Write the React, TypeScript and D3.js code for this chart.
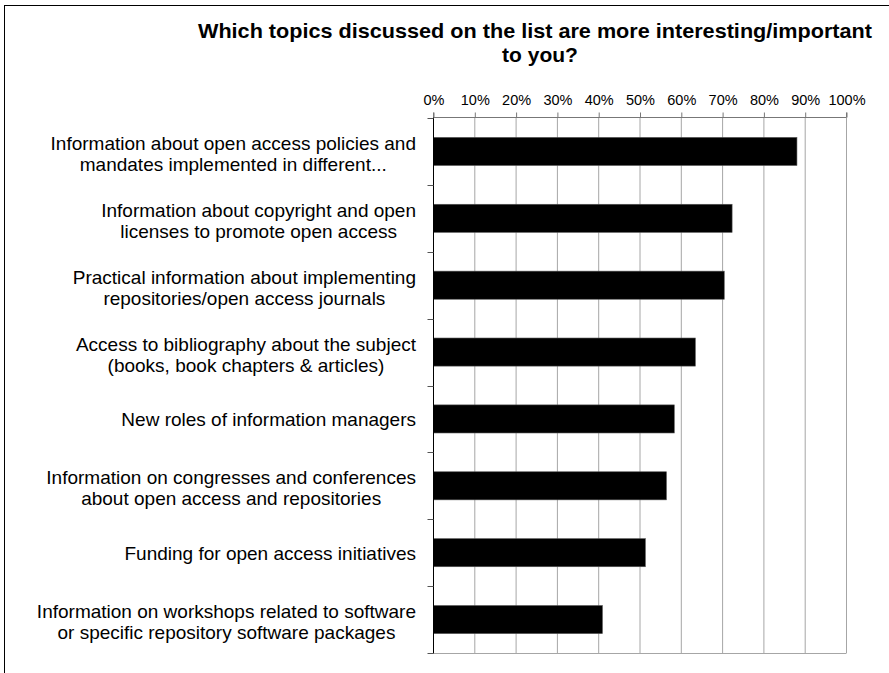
import React, { useEffect, useRef } from "react";
import * as d3 from "d3";

const titleLines = [
  "Which topics discussed on the list are more interesting/important",
  "to you?",
];

const categories = [
  ["Information about open access policies and", "mandates implemented in different..."],
  ["Information about copyright and open", "licenses to promote open access"],
  ["Practical information about implementing", "repositories/open access journals"],
  ["Access to bibliography about the subject", "(books, book chapters & articles)"],
  ["New roles of information managers"],
  ["Information on congresses and conferences", "about open access and repositories"],
  ["Funding for open access initiatives"],
  ["Information on workshops related to software", "or specific repository software packages"],
];

const values = [0.88, 0.723, 0.704, 0.634, 0.583, 0.564, 0.513, 0.409];

const tickValues = [0, 0.1, 0.2, 0.3, 0.4, 0.5, 0.6, 0.7, 0.8, 0.9, 1.0];

export default function App() {
  const ref = useRef<SVGSVGElement>(null);

  useEffect(() => {
    const svg = d3.select(ref.current);
    svg.selectAll("*").remove();

    const W = 889, H = 673;
    const left = 433.5, right = 846.5, top = 118, bottom = 653;
    const font = "'Liberation Sans', Arial, sans-serif";

    svg.append("rect").attr("x", 0).attr("y", 0).attr("width", W).attr("height", H).attr("fill", "#fff");
    svg.append("rect")
      .attr("x", 4.5).attr("y", 5.5)
      .attr("width", W + 20).attr("height", H + 20)
      .attr("fill", "none").attr("stroke", "#000").attr("stroke-width", 1);

    const x = d3.scaleLinear().domain([0, 1]).range([left, right]);
    const ids = categories.map((_, i) => String(i));
    const y = d3.scaleBand().domain(ids).range([top, bottom]).paddingInner(0.58).paddingOuter(0.29);

    // title
    const title = svg.append("g");
    titleLines.forEach((t, i) => {
      title.append("text")
        .attr("x", i === 0 ? 535 : 540).attr("y", 38 + i * 24)
        .attr("text-anchor", "middle")
        .attr("font-family", font).attr("font-weight", "bold").attr("font-size", 21)
        .attr("fill", "#000")
        .text(t);
    });
    const t1 = title.select<SVGTextElement>("text").node();
    if (t1) {
      t1.setAttribute("textLength", "674");
      t1.setAttribute("lengthAdjust", "spacingAndGlyphs");
    }

    // gridlines
    svg.append("g").selectAll("line").data(tickValues.slice(1)).join("line")
      .attr("x1", (d) => x(d)).attr("x2", (d) => x(d))
      .attr("y1", top).attr("y2", bottom)
      .attr("stroke", "#a6a6a6").attr("stroke-width", 1);

    // bottom border of plot
    svg.append("line").attr("x1", left).attr("x2", right).attr("y1", bottom + 0.5).attr("y2", bottom + 0.5)
      .attr("stroke", "#a6a6a6").attr("stroke-width", 1);

    // bars
    svg.append("g").selectAll("rect").data(values).join("rect")
      .attr("x", left)
      .attr("y", (_, i) => y(String(i))!)
      .attr("width", (d) => x(d) - left)
      .attr("height", y.bandwidth())
      .attr("fill", "#000")
      .attr("stroke", "#555").attr("stroke-width", 0.6);

    // top axis
    const axisTop = d3.axisTop(x).tickValues(tickValues).tickSize(5).tickPadding(8)
      .tickFormat((d) => d3.format(".0%")(d as number));
    const ga = svg.append("g").attr("transform", `translate(0,${top - 0.5})`).call(axisTop);
    ga.select(".domain").attr("stroke", "#777").attr("d", `M${left},-5V0H${right}V-5`);
    ga.selectAll(".tick line").attr("stroke", "#777");
    ga.selectAll(".tick text").attr("font-family", font).attr("font-size", 14.5).attr("fill", "#000");

    // left axis line with boundary ticks
    const ys = d3.range(categories.length + 1).map((i) => top + i * y.step());
    svg.append("line").attr("x1", left).attr("x2", left).attr("y1", top - 0.5).attr("y2", bottom + 0.5)
      .attr("stroke", "#000").attr("stroke-width", 1);
    svg.append("g").selectAll("line").data(ys).join("line")
      .attr("x1", left - 6).attr("x2", left)
      .attr("y1", (d) => Math.round(d) + 0.5).attr("y2", (d) => Math.round(d) + 0.5)
      .attr("stroke", "#555").attr("stroke-width", 1);

    // category labels (centered lines, block right aligned)
    const labelRight = 416;
    const lineH = 21;
    categories.forEach((lines, i) => {
      const cy = y(String(i))! + y.bandwidth() / 2;
      const g = svg.append("g");
      const texts = lines.map((ln, j) =>
        g.append("text")
          .attr("font-family", font).attr("font-size", 19).attr("fill", "#000")
          .attr("text-anchor", "middle")
          .attr("y", cy + 7 + (lines.length > 1 ? 2 : 0) + (j - (lines.length - 1) / 2) * lineH)
          .text(ln)
      );
      const widths = texts.map((t) => (t.node() as SVGTextElement).getComputedTextLength());
      const maxW = Math.max(...widths);
      texts.forEach((t) => t.attr("x", labelRight - maxW / 2));
    });
  }, []);

  return (
    <svg ref={ref} width={889} height={673} style={{ display: "block", position: "absolute", left: 0, top: 0 }} />
  );
}
